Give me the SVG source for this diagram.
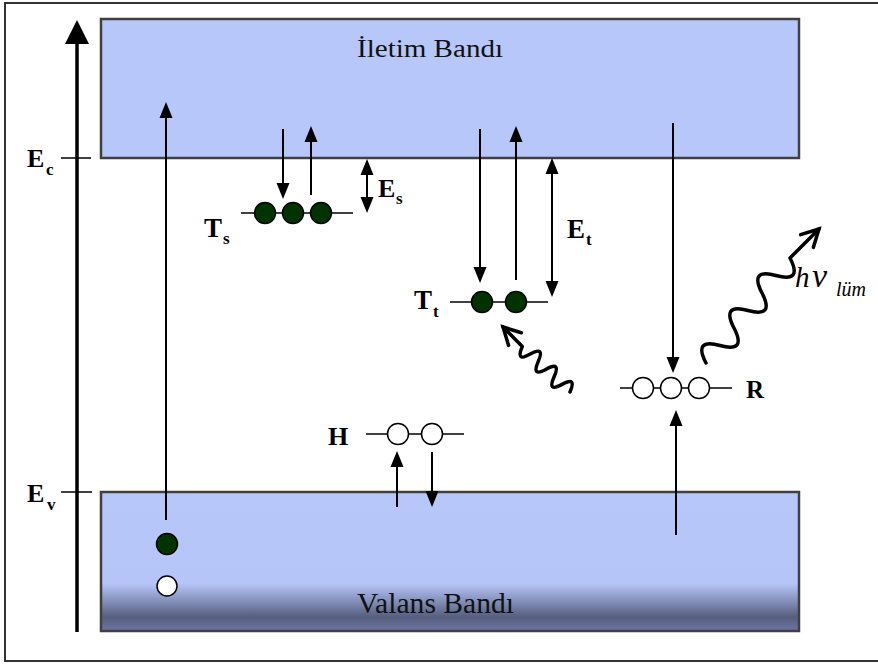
<svg xmlns="http://www.w3.org/2000/svg" width="878" height="664" viewBox="0 0 878 664">
<style>
.band{stroke:#404040;stroke-width:2.5}
.ln{stroke:#000;stroke-width:2;fill:none}
.lvl{stroke:#000;stroke-width:1.5;fill:none}
.e{fill:#013301;stroke:#000;stroke-width:1.5}
.h{fill:#fff;stroke:#000;stroke-width:1.5}
.ph{stroke:#000;stroke-width:3.5;fill:none;stroke-linecap:round;stroke-linejoin:round}
.lb{font-family:"Liberation Serif","Times New Roman",serif;font-weight:bold;fill:#000}
.bt{font-family:"Liberation Serif","Times New Roman",serif;fill:#111}
.it{font-family:"Liberation Serif","Times New Roman",serif;font-style:italic;fill:#000}
</style>
<defs>
<linearGradient id="vg" x1="0" y1="0" x2="0" y2="1">
<stop offset="0" stop-color="#b7c7fa"/>
<stop offset="0.66" stop-color="#b5c5f8"/>
<stop offset="0.76" stop-color="#8e9ac6"/>
<stop offset="0.9" stop-color="#565e7e"/>
<stop offset="1" stop-color="#6b75a0"/>
</linearGradient>
<marker id="ah" markerUnits="userSpaceOnUse" orient="auto-start-reverse" refX="0" refY="0" overflow="visible">
<path d="M10,0 L-6,-6.5 L-6,6.5 Z" fill="#000"/>
</marker>
<marker id="big" markerUnits="userSpaceOnUse" orient="auto" refX="0" refY="0" overflow="visible">
<path d="M12,0 L-12,-12 L-12,12 Z" fill="#000"/>
</marker>
<marker id="open" markerUnits="userSpaceOnUse" orient="auto" refX="0" refY="0" overflow="visible">
<path d="M-17,-9 L0,0 L-17,9" fill="none" stroke="#000" stroke-width="3.5" stroke-linecap="round" stroke-linejoin="miter"/>
</marker>
</defs>

<rect x="5" y="3" width="885" height="658" fill="#fff" stroke="#333" stroke-width="2"/>

<g id="conduction-band">
<rect class="band" x="101" y="19" width="698" height="139" fill="#b7c7fa"/>
<text class="bt" x="357" y="57" font-size="25" textLength="146" lengthAdjust="spacingAndGlyphs">İletim Bandı</text>
</g>

<g id="valence-band">
<rect class="band" x="101" y="492" width="698" height="139" fill="url(#vg)"/>
<text class="bt" x="357" y="613" font-size="29" textLength="157" lengthAdjust="spacingAndGlyphs">Valans Bandı</text>
</g>

<g id="energy-axis">
<line x1="77" y1="632" x2="77" y2="32" stroke="#000" stroke-width="3.5" marker-end="url(#big)"/>
<line x1="61" y1="158" x2="91" y2="158" stroke="#000" stroke-width="1.5"/>
<line x1="61" y1="492" x2="92" y2="492" stroke="#000" stroke-width="1.5"/>
<text class="lb" font-size="26"><tspan x="27" y="167">E</tspan><tspan x="46" y="175" font-size="17">c</tspan></text>
<text class="lb" font-size="26"><tspan x="27" y="502">E</tspan><tspan x="47" y="510" font-size="17">v</tspan></text>
</g>

<g id="carriers">
<circle class="e" cx="167" cy="544" r="10.5"/>
<circle class="h" cx="167" cy="586" r="10"/>
</g>

<g id="Ts">
<line class="lvl" x1="241" y1="213" x2="353" y2="213"/>
<circle class="e" cx="265" cy="213" r="10.5"/>
<circle class="e" cx="293" cy="213" r="10.5"/>
<circle class="e" cx="321" cy="213" r="10.5"/>
<text class="lb" font-size="27"><tspan x="204" y="237">T</tspan><tspan x="223" y="244" font-size="17">s</tspan></text>
<text class="lb" font-size="26"><tspan x="378" y="197">E</tspan><tspan x="396" y="204" font-size="17">s</tspan></text>
</g>

<g id="Tt">
<line class="lvl" x1="450" y1="302" x2="548" y2="302"/>
<circle class="e" cx="482" cy="302" r="10.5"/>
<circle class="e" cx="516" cy="302" r="10.5"/>
<text class="lb" font-size="27"><tspan x="414" y="309">T</tspan><tspan x="433" y="317" font-size="17">t</tspan></text>
<text class="lb" font-size="27"><tspan x="567" y="238">E</tspan><tspan x="586" y="245" font-size="17">t</tspan></text>
</g>

<g id="R">
<line class="lvl" x1="620" y1="388" x2="732" y2="388"/>
<circle class="h" cx="643" cy="388" r="10.5"/>
<circle class="h" cx="671" cy="388" r="10.5"/>
<circle class="h" cx="699" cy="388" r="10.5"/>
<text class="lb" x="746" y="398" font-size="25">R</text>
</g>

<g id="H">
<line class="lvl" x1="366" y1="434" x2="464" y2="434"/>
<circle class="h" cx="398" cy="434" r="10.5"/>
<circle class="h" cx="432" cy="434" r="10.5"/>
<text class="lb" x="328" y="445" font-size="26">H</text>
</g>

<g id="photon-lum">
<text class="it" font-size="29"><tspan x="795" y="287">h</tspan><tspan x="812" y="287" font-size="34">ν</tspan><tspan x="836" y="296" font-size="20">lüm</tspan></text>
</g>

<g id="connectors">
<line class="ln" x1="166" y1="520" x2="166" y2="112" marker-end="url(#ah)"/>
<line class="ln" x1="283" y1="129" x2="283" y2="189" marker-end="url(#ah)"/>
<line class="ln" x1="311" y1="195" x2="311" y2="136" marker-end="url(#ah)"/>
<line class="ln" x1="367" y1="169" x2="367" y2="203" marker-start="url(#ah)" marker-end="url(#ah)"/>
<line class="ln" x1="480" y1="129" x2="480" y2="273" marker-end="url(#ah)"/>
<line class="ln" x1="516" y1="280" x2="516" y2="136" marker-end="url(#ah)"/>
<line class="ln" x1="552" y1="168" x2="552" y2="287" marker-start="url(#ah)" marker-end="url(#ah)"/>
<line class="ln" x1="673" y1="123" x2="673" y2="363" marker-end="url(#ah)"/>
<line class="ln" x1="676" y1="535" x2="676" y2="420" marker-end="url(#ah)"/>
<line class="ln" x1="397" y1="507" x2="397" y2="461" marker-end="url(#ah)"/>
<line class="ln" x1="432" y1="452" x2="432" y2="497" marker-end="url(#ah)"/>
<path class="ph" d="M570,392 Q577,376 562,384.4 T554.1,376.8 T546.2,369.2 T538.2,361.6 T530.3,354.1 T522.3,346.5 L503,327" marker-end="url(#open)"/>
<path class="ph" d="M706,363 Q693,338 720,345.5 T734,328 T748,310.5 T762,293 T776,275.5 T790,258 L819,229" marker-end="url(#open)"/>
</g>
</svg>
